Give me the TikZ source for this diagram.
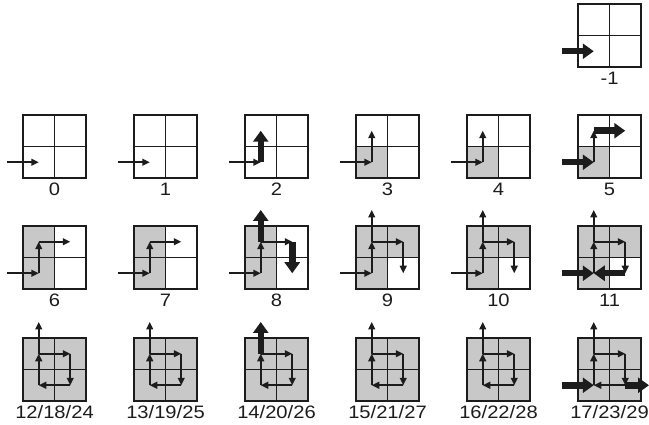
\documentclass[tikz,border=0pt]{standalone}
\usepackage{fontspec}
\setmainfont{Liberation Sans}
\usetikzlibrary{arrows.meta}
\definecolor{cellgray}{RGB}{200,200,200}
\definecolor{ink}{RGB}{28,28,28}
\tikzset{
  thin arrow/.style={draw=ink, line width=1.6pt, -{Triangle[length=7.5pt,width=7pt]}},
  thick arrow/.style={draw=ink, line width=6.5pt, -{Triangle[length=11pt,width=15pt]}},
  grid line/.style={draw=ink, line width=1.4pt},
  cell label/.style={font=\fontsize{18}{20}\selectfont, inner sep=0pt, text=ink},
}
\newcommand\gcell[4]{% id, left x, top y, label
  \coordinate (#1-nw) at (#2,#3);
  \coordinate (#1-ul) at (#2+15.75,#3+15.75);
  \coordinate (#1-ur) at (#2+47.25,#3+15.75);
  \coordinate (#1-ll) at (#2+15.75,#3+47.25);
  \coordinate (#1-lr) at (#2+47.25,#3+47.25);
  \coordinate (#1-in) at (#2-16,#3+47.25);
  \coordinate (#1-top) at (#2+15.75,#3-16);
  \coordinate (#1-out) at (#2+71,#3+47.25);
  \node[cell label] (#1-lab) at (#2+31.5,#3+74.5) {\scalebox{1.12}[1]{#4}};
}
\newcommand\gfill[2]{\fill[cellgray] (#1-#2) ++(-15.75,-15.75) rectangle ++(31.5,31.5);}
\newcommand\ggrid[1]{%
  \draw[grid line] (#1-nw) rectangle ++(63,63);
  \draw[grid line] (#1-nw) ++(31.5,0) -- ++(0,63);
  \draw[grid line] (#1-nw) ++(0,31.5) -- ++(63,0);}
\newcommand\gloop[1]{%
  \draw[thin arrow] (#1-ul) -- (#1-ur);
  \draw[thin arrow] (#1-ur) -- (#1-lr);
  \draw[thin arrow] (#1-lr) -- (#1-ll);
  \draw[thin arrow] (#1-ll) -- (#1-ul);}
\begin{document}
\begin{tikzpicture}[x=1pt,y=-1pt]
\useasboundingbox (0,0) rectangle (649,425);
% ---- row 0 : -1
\gcell{m1}{578}{4}{-1}
\ggrid{m1}
\draw[thick arrow] (m1-in) -- (m1-ll);
% ---- row 1
\gcell{c0}{23}{115}{0}
\gcell{c1}{134}{115}{1}
\gcell{c2}{245}{115}{2}
\gcell{c3}{356}{115}{3}
\gcell{c4}{467}{115}{4}
\gcell{c5}{578}{115}{5}
\gfill{c3}{ll}\gfill{c4}{ll}\gfill{c5}{ll}
\ggrid{c0}\ggrid{c1}\ggrid{c2}\ggrid{c3}\ggrid{c4}\ggrid{c5}
\draw[thin arrow] (c0-in) -- (c0-ll);
\draw[thin arrow] (c1-in) -- (c1-ll);
\draw[thin arrow] (c2-in) -- (c2-ll);
\draw[thick arrow] (c2-ll) -- (c2-ul);
\draw[thin arrow] (c3-in) -- (c3-ll);
\draw[thin arrow] (c3-ll) -- (c3-ul);
\draw[thin arrow] (c4-in) -- (c4-ll);
\draw[thin arrow] (c4-ll) -- (c4-ul);
\draw[thin arrow] (c5-ll) -- (c5-ul);
\draw[thick arrow] (c5-in) -- (c5-ll);
\draw[thick arrow] (c5-ul) -- (c5-ur);
% ---- row 2
\gcell{c6}{23}{226}{6}
\gcell{c7}{134}{226}{7}
\gcell{c8}{245}{226}{8}
\gcell{c9}{356}{226}{9}
\gcell{c10}{467}{226}{10}
\gcell{c11}{578}{226}{11}
\gfill{c6}{ll}\gfill{c6}{ul}
\gfill{c7}{ll}\gfill{c7}{ul}
\gfill{c8}{ll}\gfill{c8}{ul}
\gfill{c9}{ll}\gfill{c9}{ul}\gfill{c9}{ur}
\gfill{c10}{ll}\gfill{c10}{ul}\gfill{c10}{ur}
\gfill{c11}{ll}\gfill{c11}{ul}\gfill{c11}{ur}
\ggrid{c6}\ggrid{c7}\ggrid{c8}\ggrid{c9}\ggrid{c10}\ggrid{c11}
\draw[thin arrow] (c6-in) -- (c6-ll);
\draw[thin arrow] (c6-ll) -- (c6-ul);
\draw[thin arrow] (c6-ul) -- (c6-ur);
\draw[thin arrow] (c7-in) -- (c7-ll);
\draw[thin arrow] (c7-ll) -- (c7-ul);
\draw[thin arrow] (c7-ul) -- (c7-ur);
\draw[thin arrow] (c8-in) -- (c8-ll);
\draw[thin arrow] (c8-ll) -- (c8-ul);
\draw[thin arrow] (c8-ul) -- (c8-ur);
\draw[thick arrow] (c8-ul) -- (c8-top);
\draw[thick arrow] (c8-ur) -- (c8-lr);
\draw[thin arrow] (c9-in) -- (c9-ll);
\draw[thin arrow] (c9-ll) -- (c9-ul);
\draw[thin arrow] (c9-ul) -- (c9-top);
\draw[thin arrow] (c9-ul) -- (c9-ur);
\draw[thin arrow] (c9-ur) -- (c9-lr);
\draw[thin arrow] (c10-in) -- (c10-ll);
\draw[thin arrow] (c10-ll) -- (c10-ul);
\draw[thin arrow] (c10-ul) -- (c10-top);
\draw[thin arrow] (c10-ul) -- (c10-ur);
\draw[thin arrow] (c10-ur) -- (c10-lr);
\draw[thin arrow] (c11-ll) -- (c11-ul);
\draw[thin arrow] (c11-ul) -- (c11-top);
\draw[thin arrow] (c11-ul) -- (c11-ur);
\draw[thin arrow] (c11-ur) -- (c11-lr);
\draw[thick arrow] (c11-in) -- (c11-ll);
\draw[thick arrow] (c11-lr) -- (c11-ll);
% ---- row 3
\gcell{c12}{23}{338}{12/18/24}
\gcell{c13}{134}{338}{13/19/25}
\gcell{c14}{245}{338}{14/20/26}
\gcell{c15}{356}{338}{15/21/27}
\gcell{c16}{467}{338}{16/22/28}
\gcell{c17}{578}{338}{17/23/29}
\foreach \k in {c12,c13,c14,c15,c16,c17}{
  \gfill{\k}{ul}\gfill{\k}{ur}\gfill{\k}{ll}\gfill{\k}{lr}
  \ggrid{\k}
  \gloop{\k}
}
\draw[thin arrow] (c12-ul) -- (c12-top);
\draw[thin arrow] (c13-ul) -- (c13-top);
\draw[thick arrow] (c14-ul) -- (c14-top);
\draw[thin arrow] (c15-ul) -- (c15-top);
\draw[thin arrow] (c16-ul) -- (c16-top);
\draw[thin arrow] (c17-ul) -- (c17-top);
\draw[thick arrow] (c17-in) -- (c17-ll);
\draw[thick arrow] (c17-lr) -- (c17-out);
\end{tikzpicture}
\end{document}
